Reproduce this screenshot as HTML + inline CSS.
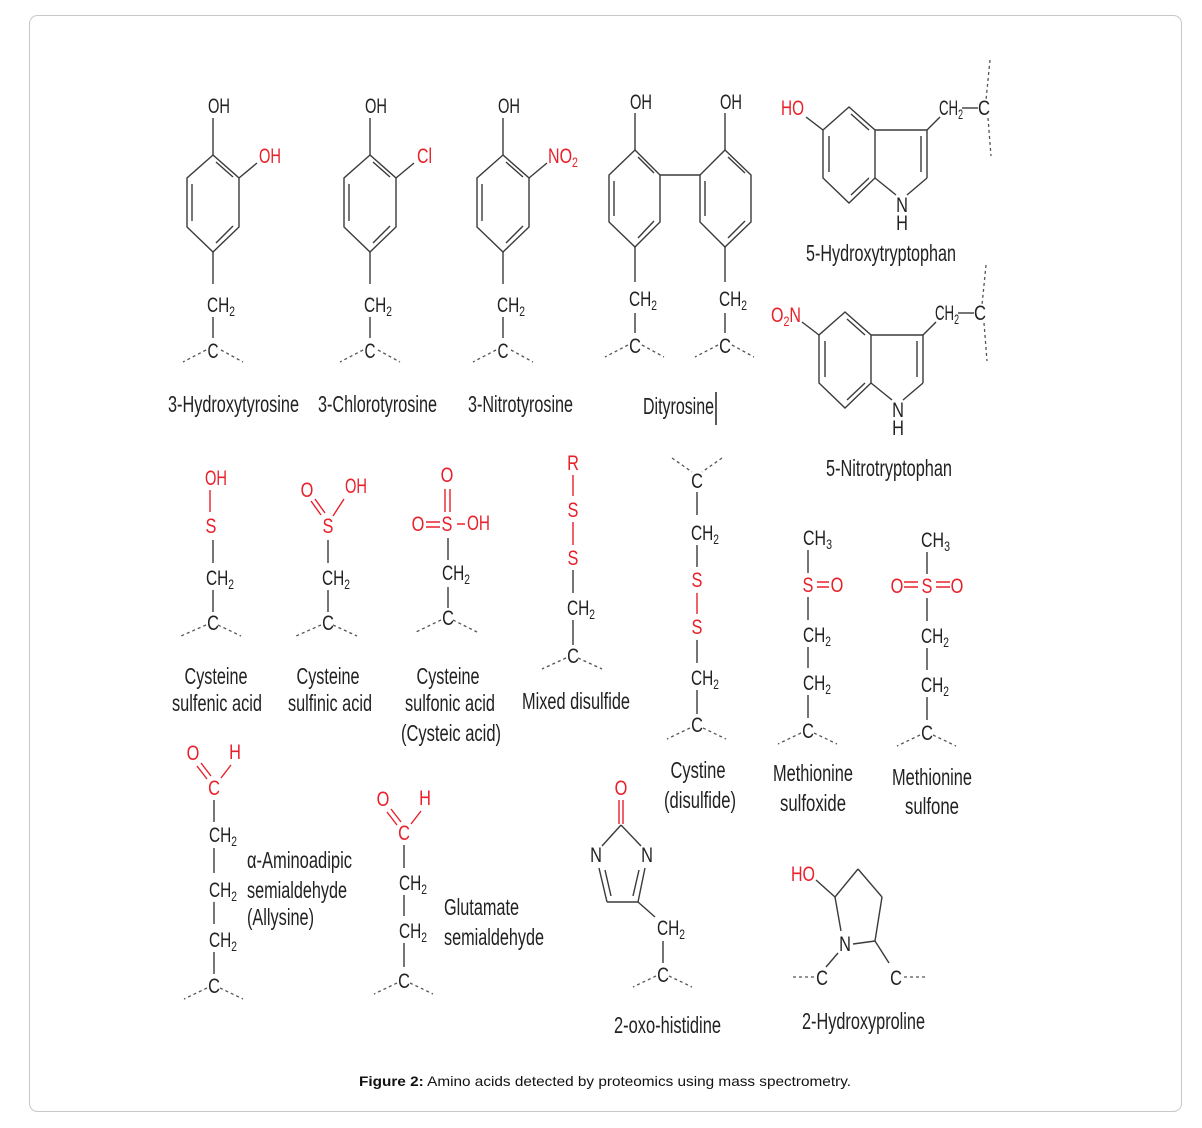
<!DOCTYPE html>
<html><head><meta charset="utf-8"><style>
html,body{margin:0;padding:0;background:#fff;}
svg{display:block;}
text{font-family:"Liberation Sans",sans-serif;fill:#222;}
.a{font-size:21px;}
.a:not([textLength]){transform:scaleX(.78);transform-box:fill-box;transform-origin:center;}
.r{fill:#e8202a;}
.l{font-size:23px;}
.b line,.b polyline,.b polygon{stroke:#3a3a3a;stroke-width:1.4;fill:none;}
.d{stroke:#555;stroke-width:1.3;stroke-dasharray:3,3;fill:none;}
.rb{stroke:#e8202a;stroke-width:1.4;fill:none;}
.cap{font-size:14px;fill:#111;}
</style></head><body>
<svg width="1202" height="1128" viewBox="0 0 1202 1128" xmlns="http://www.w3.org/2000/svg">
<rect x="29.5" y="15.5" width="1152" height="1096" rx="8" fill="#fff" stroke="#c8c8c8"/>

<defs>
<g id="tyr">
 <g class="b">
  <line x1="213" y1="118" x2="213" y2="155"/>
  <polygon points="213,155 239,178 239,227 213,252 187,227 187,178"/>
  <line x1="216" y1="162" x2="233" y2="177"/>
  <line x1="233" y1="226" x2="216" y2="243"/>
  <line x1="192" y1="184" x2="192" y2="221"/>
  <line x1="239" y1="178" x2="257" y2="163"/>
  <line x1="213" y1="252" x2="213" y2="284"/>
  <line x1="213" y1="317" x2="213" y2="338"/>
 </g>
 <path class="d" d="M206 350 L183 362 M221 350 L243 362"/>
 <text class="a" x="208" y="113" textLength="22" lengthAdjust="spacingAndGlyphs">OH</text>
 <text class="a" x="207" y="312" textLength="28" lengthAdjust="spacingAndGlyphs">CH<tspan font-size="14" dy="4">2</tspan></text>
 <text class="a" x="213" y="358" text-anchor="middle" textLength="11" lengthAdjust="spacingAndGlyphs">C</text>
</g>
</defs>

<use href="#tyr"/>
<text class="a r" x="259" y="163" textLength="22" lengthAdjust="spacingAndGlyphs">OH</text>
<text class="l" x="168" y="412" textLength="131" lengthAdjust="spacingAndGlyphs">3-Hydroxytyrosine</text>
<use href="#tyr" transform="translate(157,0)"/>
<text class="a r" x="417" y="163" textLength="15" lengthAdjust="spacingAndGlyphs">Cl</text>
<text class="l" x="318" y="412" textLength="119" lengthAdjust="spacingAndGlyphs">3-Chlorotyrosine</text>
<use href="#tyr" transform="translate(290,0)"/>
<text class="a r" x="548" y="163" textLength="30" lengthAdjust="spacingAndGlyphs">NO<tspan font-size="14" dy="4">2</tspan></text>
<text class="l" x="468" y="412" textLength="105" lengthAdjust="spacingAndGlyphs">3-Nitrotyrosine</text>

<g class="b">
 <line x1="635" y1="113" x2="635" y2="150"/>
 <polygon points="635,150 660,175 660,222 635,247 609,222 609,175"/>
 <line x1="638" y1="157" x2="654" y2="173"/>
 <line x1="654" y1="221" x2="638" y2="238"/>
 <line x1="614" y1="181" x2="614" y2="216"/>
 <line x1="660" y1="175" x2="700" y2="175"/>
 <line x1="725" y1="113" x2="725" y2="150"/>
 <polygon points="725,150 751,175 751,222 725,247 700,222 700,175"/>
 <line x1="728" y1="157" x2="745" y2="173"/>
 <line x1="745" y1="221" x2="728" y2="238"/>
 <line x1="705" y1="181" x2="705" y2="216"/>
 <line x1="635" y1="247" x2="635" y2="282"/>
 <line x1="725" y1="247" x2="725" y2="282"/>
 <line x1="635" y1="313" x2="635" y2="333"/>
 <line x1="725" y1="313" x2="725" y2="333"/>
</g>
<path class="d" d="M628 345 L605 357 M642 345 L664 357 M718 345 L695 357 M732 345 L754 357"/>
<text class="a" x="630" y="109" textLength="22" lengthAdjust="spacingAndGlyphs">OH</text>
<text class="a" x="720" y="109" textLength="22" lengthAdjust="spacingAndGlyphs">OH</text>
<text class="a" x="629" y="306" textLength="28" lengthAdjust="spacingAndGlyphs">CH<tspan font-size="14" dy="4">2</tspan></text>
<text class="a" x="719" y="306" textLength="28" lengthAdjust="spacingAndGlyphs">CH<tspan font-size="14" dy="4">2</tspan></text>
<text class="a" x="635" y="353" text-anchor="middle">C</text>
<text class="a" x="725" y="353" text-anchor="middle">C</text>
<text class="l" x="643" y="414" textLength="71" lengthAdjust="spacingAndGlyphs">Dityrosine</text>
<line x1="716" y1="392" x2="716" y2="425" stroke="#222" stroke-width="1.5"/>

<defs>
<g id="trp">
 <g class="b">
  <polygon points="849,107 875,130 875,178 849,203 823,178 823,130"/>
  <line x1="851" y1="114" x2="869" y2="130"/>
  <line x1="869" y1="178" x2="851" y2="195"/>
  <line x1="829" y1="136" x2="829" y2="172"/>
  <line x1="875" y1="130" x2="927" y2="130"/>
  <line x1="927" y1="130" x2="927" y2="178"/>
  <line x1="921" y1="136" x2="921" y2="172"/>
  <line x1="927" y1="178" x2="907" y2="195"/>
  <line x1="875" y1="178" x2="896" y2="195"/>
  <line x1="927" y1="130" x2="940" y2="117"/>
  <line x1="962" y1="108" x2="978" y2="108"/>
 </g>
 <path class="d" d="M990 60 L986 100 M988 118 L991 156"/>
 <text class="a" x="902" y="212" text-anchor="middle">N</text>
 <text class="a" x="902" y="230" text-anchor="middle">H</text>
 <text class="a" x="939" y="115" textLength="24" lengthAdjust="spacingAndGlyphs">CH<tspan font-size="14" dy="4">2</tspan></text>
 <text class="a" x="978" y="115" textLength="12" lengthAdjust="spacingAndGlyphs">C</text>
</g>
</defs>
<use href="#trp"/>
<line x1="823" y1="130" x2="806" y2="117" stroke="#3a3a3a" stroke-width="1.4"/>
<text class="a r" x="781" y="115" textLength="23" lengthAdjust="spacingAndGlyphs">HO</text>
<text class="l" x="806" y="261" textLength="150" lengthAdjust="spacingAndGlyphs">5-Hydroxytryptophan</text>
<use href="#trp" transform="translate(-4,205)"/>
<line x1="819" y1="335" x2="802" y2="322" stroke="#3a3a3a" stroke-width="1.4"/>
<text class="a r" x="771" y="322" textLength="30" lengthAdjust="spacingAndGlyphs">O<tspan font-size="14" dy="4">2</tspan><tspan dy="-4">N</tspan></text>
<text class="l" x="826" y="476" textLength="126" lengthAdjust="spacingAndGlyphs">5-Nitrotryptophan</text>

<g class="b">
 <line x1="213" y1="540" x2="213" y2="563"/>
 <line x1="213" y1="590" x2="213" y2="612"/>
 <line x1="328" y1="540" x2="328" y2="563"/>
 <line x1="328" y1="590" x2="328" y2="612"/>
 <line x1="448" y1="538" x2="448" y2="560"/>
 <line x1="448" y1="587" x2="448" y2="608"/>
 <line x1="573" y1="570" x2="573" y2="593"/>
 <line x1="573" y1="620" x2="573" y2="645"/>
</g>
<line class="rb" x1="210" y1="490" x2="210" y2="512"/>
<path class="d" d="M206 625 L181 636 M218 625 L241 636 M321 625 L296 636 M333 625 L357 636 M441 620 L416 632 M453 620 L477 632 M566 658 L542 669 M578 658 L602 669"/>
<text class="a r" x="205" y="485" textLength="22" lengthAdjust="spacingAndGlyphs">OH</text>
<text class="a r" x="211" y="533" text-anchor="middle">S</text>
<text class="a" x="206" y="585" textLength="28" lengthAdjust="spacingAndGlyphs">CH<tspan font-size="14" dy="4">2</tspan></text>
<text class="a" x="213" y="630" text-anchor="middle">C</text>
<text class="l" x="216" y="684" text-anchor="middle" textLength="63" lengthAdjust="spacingAndGlyphs">Cysteine</text>
<text class="l" x="172" y="711" textLength="90" lengthAdjust="spacingAndGlyphs">sulfenic acid</text>
<text class="a r" x="307" y="497" text-anchor="middle">O</text>
<text class="a r" x="345" y="493" textLength="22" lengthAdjust="spacingAndGlyphs">OH</text>
<path class="rb" d="M311 501 L321 515 M315 499 L325 513 M344 499 L333 516"/>
<text class="a r" x="328" y="533" text-anchor="middle">S</text>
<text class="a" x="322" y="585" textLength="28" lengthAdjust="spacingAndGlyphs">CH<tspan font-size="14" dy="4">2</tspan></text>
<text class="a" x="328" y="630" text-anchor="middle">C</text>
<text class="l" x="328" y="684" text-anchor="middle" textLength="63" lengthAdjust="spacingAndGlyphs">Cysteine</text>
<text class="l" x="288" y="711" textLength="84" lengthAdjust="spacingAndGlyphs">sulfinic acid</text>
<text class="a r" x="447" y="482" text-anchor="middle">O</text>
<path class="rb" d="M445 489 L445 512 M450 489 L450 512 M426 522 L440 522 M426 527 L440 527 M457 524 L465 524"/>
<text class="a r" x="418" y="531" text-anchor="middle">O</text>
<text class="a r" x="447" y="531" text-anchor="middle">S</text>
<text class="a r" x="467" y="530" textLength="23" lengthAdjust="spacingAndGlyphs">OH</text>
<text class="a" x="442" y="580" textLength="28" lengthAdjust="spacingAndGlyphs">CH<tspan font-size="14" dy="4">2</tspan></text>
<text class="a" x="448" y="625" text-anchor="middle">C</text>
<text class="l" x="448" y="684" text-anchor="middle" textLength="63" lengthAdjust="spacingAndGlyphs">Cysteine</text>
<text class="l" x="405" y="711" textLength="90" lengthAdjust="spacingAndGlyphs">sulfonic acid</text>
<text class="l" x="401" y="741" textLength="100" lengthAdjust="spacingAndGlyphs">(Cysteic acid)</text>
<path class="rb" d="M573 475 L573 496 M573 522 L573 545"/>
<text class="a r" x="573" y="470" text-anchor="middle">R</text>
<text class="a r" x="573" y="517" text-anchor="middle">S</text>
<text class="a r" x="573" y="565" text-anchor="middle">S</text>
<text class="a" x="567" y="615" textLength="28" lengthAdjust="spacingAndGlyphs">CH<tspan font-size="14" dy="4">2</tspan></text>
<text class="a" x="573" y="663" text-anchor="middle">C</text>
<text class="l" x="522" y="709" textLength="108" lengthAdjust="spacingAndGlyphs">Mixed disulfide</text>

<path class="d" d="M672 458 L692 472 M722 458 L702 472 M690 728 L667 739 M703 728 L726 739"/>
<g class="b">
 <line x1="697" y1="492" x2="697" y2="515"/>
 <line x1="697" y1="545" x2="697" y2="567"/>
 <line x1="697" y1="640" x2="697" y2="663"/>
 <line x1="697" y1="690" x2="697" y2="714"/>
</g>
<line class="rb" x1="697" y1="593" x2="697" y2="614"/>
<text class="a" x="697" y="488" text-anchor="middle">C</text>
<text class="a" x="691" y="540" textLength="28" lengthAdjust="spacingAndGlyphs">CH<tspan font-size="14" dy="4">2</tspan></text>
<text class="a r" x="697" y="587" text-anchor="middle">S</text>
<text class="a r" x="697" y="634" text-anchor="middle">S</text>
<text class="a" x="691" y="685" textLength="28" lengthAdjust="spacingAndGlyphs">CH<tspan font-size="14" dy="4">2</tspan></text>
<text class="a" x="697" y="732" text-anchor="middle">C</text>
<text class="l" x="698" y="778" text-anchor="middle" textLength="55" lengthAdjust="spacingAndGlyphs">Cystine</text>
<text class="l" x="664" y="808" textLength="72" lengthAdjust="spacingAndGlyphs">(disulfide)</text>

<g class="b">
 <line x1="808" y1="550" x2="808" y2="573"/>
 <line x1="808" y1="597" x2="808" y2="620"/>
 <line x1="808" y1="647" x2="808" y2="668"/>
 <line x1="808" y1="695" x2="808" y2="718"/>
 <line x1="927" y1="552" x2="927" y2="574"/>
 <line x1="927" y1="598" x2="927" y2="621"/>
 <line x1="927" y1="648" x2="927" y2="670"/>
 <line x1="927" y1="697" x2="927" y2="720"/>
</g>
<path class="rb" d="M817 582 L829 582 M817 587 L829 587 M904 582 L918 582 M904 587 L918 587 M936 582 L950 582 M936 587 L950 587"/>
<path class="d" d="M801 733 L778 744 M814 733 L837 744 M920 735 L897 746 M933 735 L956 746"/>
<text class="a" x="803" y="545" textLength="29" lengthAdjust="spacingAndGlyphs">CH<tspan font-size="14" dy="4">3</tspan></text>
<text class="a r" x="808" y="592" text-anchor="middle">S</text>
<text class="a r" x="837" y="592" text-anchor="middle">O</text>
<text class="a" x="803" y="642" textLength="28" lengthAdjust="spacingAndGlyphs">CH<tspan font-size="14" dy="4">2</tspan></text>
<text class="a" x="803" y="690" textLength="28" lengthAdjust="spacingAndGlyphs">CH<tspan font-size="14" dy="4">2</tspan></text>
<text class="a" x="808" y="738" text-anchor="middle">C</text>
<text class="l" x="773" y="781" textLength="80" lengthAdjust="spacingAndGlyphs">Methionine</text>
<text class="l" x="813" y="811" text-anchor="middle" textLength="66" lengthAdjust="spacingAndGlyphs">sulfoxide</text>
<text class="a" x="921" y="547" textLength="29" lengthAdjust="spacingAndGlyphs">CH<tspan font-size="14" dy="4">3</tspan></text>
<text class="a r" x="897" y="593" text-anchor="middle">O</text>
<text class="a r" x="927" y="593" text-anchor="middle">S</text>
<text class="a r" x="957" y="593" text-anchor="middle">O</text>
<text class="a" x="921" y="643" textLength="28" lengthAdjust="spacingAndGlyphs">CH<tspan font-size="14" dy="4">2</tspan></text>
<text class="a" x="921" y="692" textLength="28" lengthAdjust="spacingAndGlyphs">CH<tspan font-size="14" dy="4">2</tspan></text>
<text class="a" x="927" y="740" text-anchor="middle">C</text>
<text class="l" x="892" y="785" textLength="80" lengthAdjust="spacingAndGlyphs">Methionine</text>
<text class="l" x="932" y="814" text-anchor="middle" textLength="54" lengthAdjust="spacingAndGlyphs">sulfone</text>

<path class="rb" d="M197 766 L207 779 M201 763 L211 776 M231 765 L221 778"/>
<text class="a r" x="193" y="760" text-anchor="middle">O</text>
<text class="a r" x="235" y="759" text-anchor="middle">H</text>
<text class="a r" x="214" y="795" text-anchor="middle">C</text>
<g class="b">
 <line x1="214" y1="800" x2="214" y2="822"/>
 <line x1="214" y1="848" x2="214" y2="873"/>
 <line x1="214" y1="902" x2="214" y2="924"/>
 <line x1="214" y1="952" x2="214" y2="974"/>
 <line x1="404" y1="845" x2="404" y2="868"/>
 <line x1="404" y1="895" x2="404" y2="916"/>
 <line x1="404" y1="943" x2="404" y2="967"/>
</g>
<path class="d" d="M207 988 L184 999 M220 988 L243 999 M397 983 L374 994 M410 983 L433 994"/>
<text class="a" x="209" y="842" textLength="28" lengthAdjust="spacingAndGlyphs">CH<tspan font-size="14" dy="4">2</tspan></text>
<text class="a" x="209" y="897" textLength="28" lengthAdjust="spacingAndGlyphs">CH<tspan font-size="14" dy="4">2</tspan></text>
<text class="a" x="209" y="947" textLength="28" lengthAdjust="spacingAndGlyphs">CH<tspan font-size="14" dy="4">2</tspan></text>
<text class="a" x="214" y="993" text-anchor="middle">C</text>
<text class="l" x="247" y="868" textLength="105" lengthAdjust="spacingAndGlyphs">α-Aminoadipic</text>
<text class="l" x="247" y="898" textLength="100" lengthAdjust="spacingAndGlyphs">semialdehyde</text>
<text class="l" x="247" y="925" textLength="67" lengthAdjust="spacingAndGlyphs">(Allysine)</text>
<path class="rb" d="M387 812 L397 825 M391 809 L401 822 M421 811 L411 824"/>
<text class="a r" x="383" y="806" text-anchor="middle">O</text>
<text class="a r" x="425" y="805" text-anchor="middle">H</text>
<text class="a r" x="404" y="840" text-anchor="middle">C</text>
<text class="a" x="399" y="890" textLength="28" lengthAdjust="spacingAndGlyphs">CH<tspan font-size="14" dy="4">2</tspan></text>
<text class="a" x="399" y="938" textLength="28" lengthAdjust="spacingAndGlyphs">CH<tspan font-size="14" dy="4">2</tspan></text>
<text class="a" x="404" y="988" text-anchor="middle">C</text>
<text class="l" x="444" y="915" textLength="75" lengthAdjust="spacingAndGlyphs">Glutamate</text>
<text class="l" x="444" y="945" textLength="100" lengthAdjust="spacingAndGlyphs">semialdehyde</text>

<path class="rb" d="M619 800 L619 824 M623 800 L623 824"/>
<text class="a r" x="621" y="795" text-anchor="middle">O</text>
<g class="b">
 <line x1="621" y1="825" x2="602" y2="846"/>
 <line x1="621" y1="825" x2="641" y2="846"/>
 <line x1="599" y1="868" x2="607" y2="902"/>
 <line x1="605" y1="870" x2="611" y2="896"/>
 <line x1="607" y1="902" x2="638" y2="902"/>
 <line x1="638" y1="902" x2="645" y2="868"/>
 <line x1="633" y1="896" x2="639" y2="870"/>
 <line x1="638" y1="902" x2="655" y2="917"/>
 <line x1="663" y1="941" x2="663" y2="963"/>
</g>
<path class="d" d="M656 976 L633 987 M669 976 L692 987"/>
<text class="a" x="596" y="862" text-anchor="middle">N</text>
<text class="a" x="647" y="862" text-anchor="middle">N</text>
<text class="a" x="657" y="935" textLength="28" lengthAdjust="spacingAndGlyphs">CH<tspan font-size="14" dy="4">2</tspan></text>
<text class="a" x="663" y="982" text-anchor="middle">C</text>
<text class="l" x="614" y="1033" textLength="107" lengthAdjust="spacingAndGlyphs">2-oxo-histidine</text>

<g class="b">
 <line x1="816" y1="880" x2="835" y2="897"/>
 <line x1="835" y1="897" x2="858" y2="869"/>
 <line x1="858" y1="869" x2="882" y2="897"/>
 <line x1="882" y1="897" x2="875" y2="941"/>
 <line x1="875" y1="941" x2="853" y2="944"/>
 <line x1="835" y1="897" x2="841" y2="931"/>
 <line x1="838" y1="953" x2="826" y2="967"/>
 <line x1="875" y1="941" x2="889" y2="963"/>
</g>
<path class="d" d="M793 977 L815 977 M904 977 L926 977"/>
<text class="a r" x="791" y="881" textLength="24" lengthAdjust="spacingAndGlyphs">HO</text>
<text class="a" x="845" y="951" text-anchor="middle">N</text>
<text class="a" x="822" y="985" text-anchor="middle">C</text>
<text class="a" x="896" y="985" text-anchor="middle">C</text>
<text class="l" x="802" y="1029" textLength="123" lengthAdjust="spacingAndGlyphs">2-Hydroxyproline</text>

<text class="cap" x="359" y="1086" textLength="492" lengthAdjust="spacingAndGlyphs"><tspan font-weight="bold">Figure 2:</tspan> Amino acids detected by proteomics using mass spectrometry.</text>
</svg>
</body></html>
